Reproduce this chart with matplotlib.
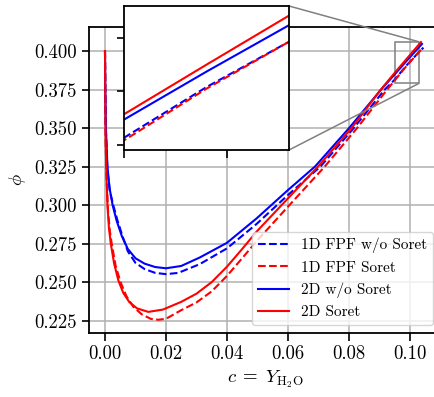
import matplotlib
matplotlib.use("Agg")
import matplotlib.pyplot as plt
from mpl_toolkits.axes_grid1.inset_locator import mark_inset

plt.rcParams['font.family'] = 'serif'
plt.rcParams['font.serif'] = ['cmr10']
plt.rcParams['mathtext.fontset'] = 'cm'
plt.rcParams['axes.unicode_minus'] = False
plt.rcParams['font.size'] = 13.5
plt.rcParams['axes.linewidth'] = 1.3
plt.rcParams['xtick.major.size'] = 5.4
plt.rcParams['ytick.major.size'] = 5.4
plt.rcParams['xtick.major.width'] = 1.2
plt.rcParams['ytick.major.width'] = 1.2

# 1D FPF w/o Soret (blue dashed)
x_fpf_nosoret = [0, 0.0001, 0.0003, 0.0008, 0.0016, 0.0027, 0.0041, 0.0058, 0.0075, 0.0100, 0.0130,
                 0.0165, 0.0200, 0.0240, 0.0311, 0.0400, 0.0497, 0.0600, 0.0707, 0.0816, 0.0918,
                 0.0950, 0.0990, 0.1030, 0.1045]
y_fpf_nosoret = [0.400, 0.374, 0.348, 0.322, 0.309, 0.300, 0.290, 0.2795, 0.2700, 0.2625, 0.2585,
                 0.2560, 0.2552, 0.2560, 0.2617, 0.2719, 0.2877, 0.3065, 0.3250, 0.3500, 0.3750,
                 0.3813, 0.3908, 0.3993, 0.4022]
# 1D FPF Soret (red dashed)
x_fpf_soret = [0, 0.0001, 0.0002, 0.0005, 0.0010, 0.0016, 0.0022, 0.0035, 0.0051, 0.0070, 0.0093,
               0.0120, 0.0150, 0.0175, 0.0200, 0.0250, 0.0300, 0.0350, 0.0400, 0.0450, 0.0497,
               0.0600, 0.0721, 0.0827, 0.0926, 0.0950, 0.0990, 0.1030, 0.1045]
y_fpf_soret = [0.400, 0.368, 0.342, 0.318, 0.296, 0.283, 0.275, 0.2605, 0.2500, 0.2410, 0.2340,
               0.2292, 0.2262, 0.2256, 0.2262, 0.2318, 0.2368, 0.2440, 0.2540, 0.2655, 0.2765,
               0.2989, 0.3250, 0.3500, 0.3750, 0.3808, 0.3905, 0.3993, 0.4022]
# 2D w/o Soret (blue solid)
x_2d_nosoret = [0, 0.0001, 0.0003, 0.0008, 0.0015, 0.0025, 0.0038, 0.0055, 0.0075, 0.0100, 0.0130,
                0.0165, 0.0200, 0.0250, 0.0311, 0.0400, 0.0497, 0.0600, 0.0689, 0.0801, 0.0906,
                0.0950, 0.0990, 0.1030, 0.1040]
y_2d_nosoret = [0.400, 0.375, 0.350, 0.325, 0.311, 0.300, 0.290, 0.280, 0.2715, 0.2655, 0.2620,
                0.2598, 0.2590, 0.2605, 0.2660, 0.2755, 0.2913, 0.3097, 0.3250, 0.3500, 0.3750,
                0.3847, 0.3937, 0.4024, 0.4046]
# 2D Soret (red solid)
x_2d_soret = [0, 0.0001, 0.0002, 0.0004, 0.0008, 0.0013, 0.0019, 0.0030, 0.0044, 0.0060, 0.0080,
              0.0105, 0.0142, 0.0190, 0.0250, 0.0300, 0.0350, 0.0400, 0.0450, 0.0497, 0.0600,
              0.0699, 0.0809, 0.0905, 0.0950, 0.0990, 0.1030, 0.1037]
y_2d_soret = [0.400, 0.370, 0.345, 0.325, 0.300, 0.285, 0.275, 0.262, 0.251, 0.2430, 0.2370,
              0.2330, 0.2307, 0.2322, 0.2372, 0.2425, 0.2500, 0.2600, 0.2715, 0.2827, 0.3043,
              0.3250, 0.3500, 0.3750, 0.3857, 0.3950, 0.4042, 0.4058]

labels = ["1D FPF w/o Soret", "1D FPF Soret", "2D w/o Soret", "2D Soret"]
x_ticks = [0.00, 0.02, 0.04, 0.06, 0.08, 0.10]
y_ticks = [0.225, 0.250, 0.275, 0.300, 0.325, 0.350, 0.375, 0.400]
inset_x_ticks = [0.095, 0.100]
inset_y_ticks = [0.38, 0.39, 0.40]

series = [
    (x_fpf_nosoret, y_fpf_nosoret, 'blue', '--'),
    (x_fpf_soret, y_fpf_soret, 'red', '--'),
    (x_2d_nosoret, y_2d_nosoret, 'blue', '-'),
    (x_2d_soret, y_2d_soret, 'red', '-'),
]

fig = plt.figure(figsize=(4.35, 3.97), dpi=100)
ax = fig.add_axes([89 / 435, 64 / 397, 352 / 435, 306 / 397])
for (xs, ys, c, ls), lab in zip(series, labels):
    ax.plot(xs, ys, color=c, linestyle=ls, lw=1.5, label=lab)
ax.set_xlim(-0.00525, 0.11025)
ax.set_ylim(0.217, 0.4156)
ax.set_xticks(x_ticks)
ax.set_xticklabels([f"{v:.2f}" for v in x_ticks])
ax.set_yticks(y_ticks)
ax.set_yticklabels([f"{v:.3f}" for v in y_ticks])
ax.grid(True, color='#b0b0b0', lw=1.1)
ax.set_axisbelow(True)
ax.set_xlabel(r"$c \;=\; Y_{\mathrm{H_2O}}$")
ax.set_ylabel(r"$\phi$")
ax.legend(loc='lower right', framealpha=0.8, fontsize=11)

axins = fig.add_axes([124 / 435, 1 - 150 / 397, 165 / 435, 144 / 397])
for xs, ys, c, ls in series:
    axins.plot(xs, ys, color=c, linestyle=ls, lw=1.5)
axins.set_xlim(0.095, 0.103)
axins.set_ylim(0.379, 0.406)
axins.set_xticks(inset_x_ticks)
axins.set_yticks(inset_y_ticks)
axins.set_xticklabels([])
axins.set_yticklabels([])
mark_inset(ax, axins, loc1=1, loc2=4, fc='none', ec='0.5', lw=1.1)

fig.savefig("out.png", dpi=100)
